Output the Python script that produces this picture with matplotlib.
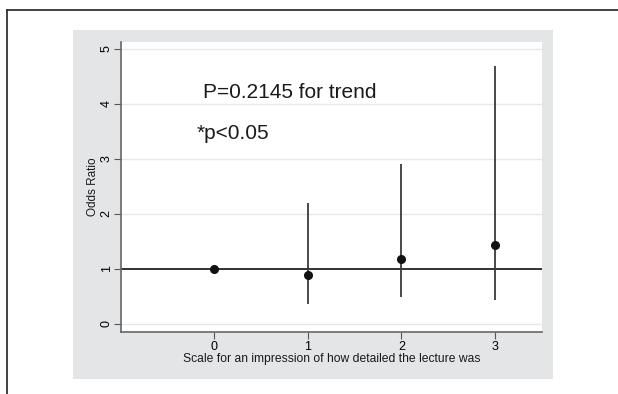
import matplotlib
matplotlib.use("Agg")
import matplotlib.pyplot as plt
from matplotlib.patches import Rectangle
from matplotlib.lines import Line2D

plt.rcParams['font.family'] = ['Liberation Sans', 'DejaVu Sans']

# Data
scale = [0, 1, 2, 3]
odds_ratio = [1.0, 0.885, 1.18, 1.43]
ci_low = [None, 0.36, 0.485, 0.436]
ci_high = [None, 2.19, 2.91, 4.68]
yticks = [0, 1, 2, 3, 4, 5]
xticks = [0, 1, 2, 3]
trend_text = "P=0.2145 for trend"
sig_text = "*p<0.05"
xlabel = "Scale for an impression of how detailed the lecture was"
ylabel = "Odds Ratio"

W, H = 618, 394
fig = plt.figure(figsize=(W / 100, H / 100), dpi=100)
fig.patch.set_facecolor('white')

# gray graph region
fig.patches.append(Rectangle((73.3 / W, 1 - 379 / H), (553.3 - 73.3) / W, (379 - 29.5) / H,
                             transform=fig.transFigure, facecolor='#e4e5e7', edgecolor='none', zorder=-10))
# outer frame (top and left)
fig.lines.append(Line2D([7 / W, 1.0], [1 - 10 / H, 1 - 10 / H], transform=fig.transFigure,
                        color='#333333', lw=1.3, zorder=-5))
fig.lines.append(Line2D([7 / W, 7 / W], [0, 1 - 10 / H], transform=fig.transFigure,
                        color='#333333', lw=1.3, zorder=-5))

ax = fig.add_axes([121 / W, 1 - 331.7 / H, (541.7 - 121) / W, (331.7 - 41.7) / H])
ax.set_zorder(1)
ax.set_facecolor('white')
ax.set_xlim(-1, 3.5)
ax.set_ylim(-0.14, 5.13)

for s in ['top', 'right']:
    ax.spines[s].set_visible(False)
for s in ['left', 'bottom']:
    ax.spines[s].set_color('#666666')
    ax.spines[s].set_linewidth(1.2)

ax.set_yticks(yticks)
ax.set_xticks(xticks)
ax.tick_params(axis='y', labelrotation=90, labelsize=9, length=5, color='#555555', pad=1)
ax.tick_params(axis='x', labelsize=9, length=5, color='#555555', pad=1.5)
for lab in ax.get_yticklabels():
    lab.set_verticalalignment('center')

for yv in yticks:
    if yv != 1:
        ax.axhline(yv, color='#e8e8e8', lw=1.0, zorder=0)
ax.axhline(1, color='#333333', lw=1.4, zorder=1)

for x, lo, hi in zip(scale, ci_low, ci_high):
    if lo is not None:
        ax.vlines(x, lo, hi, color='#3a3a3a', lw=1.3, zorder=2)
ax.plot(scale, odds_ratio, 'o', color='#111111', markersize=5.5, zorder=3)

ax.text(-0.12, 4.11, trend_text, fontsize=15, color='#1a1a1a', va='baseline', ha='left')
ax.text(-0.19, 3.36, sig_text, fontsize=15, color='#1a1a1a', va='baseline', ha='left')

ax.set_xlabel(xlabel, fontsize=8.7, labelpad=0, color='#1a1a1a')
ax.set_ylabel(ylabel, fontsize=8.5, labelpad=1, color='#1a1a1a')

fig.savefig('out.png', dpi=100)
